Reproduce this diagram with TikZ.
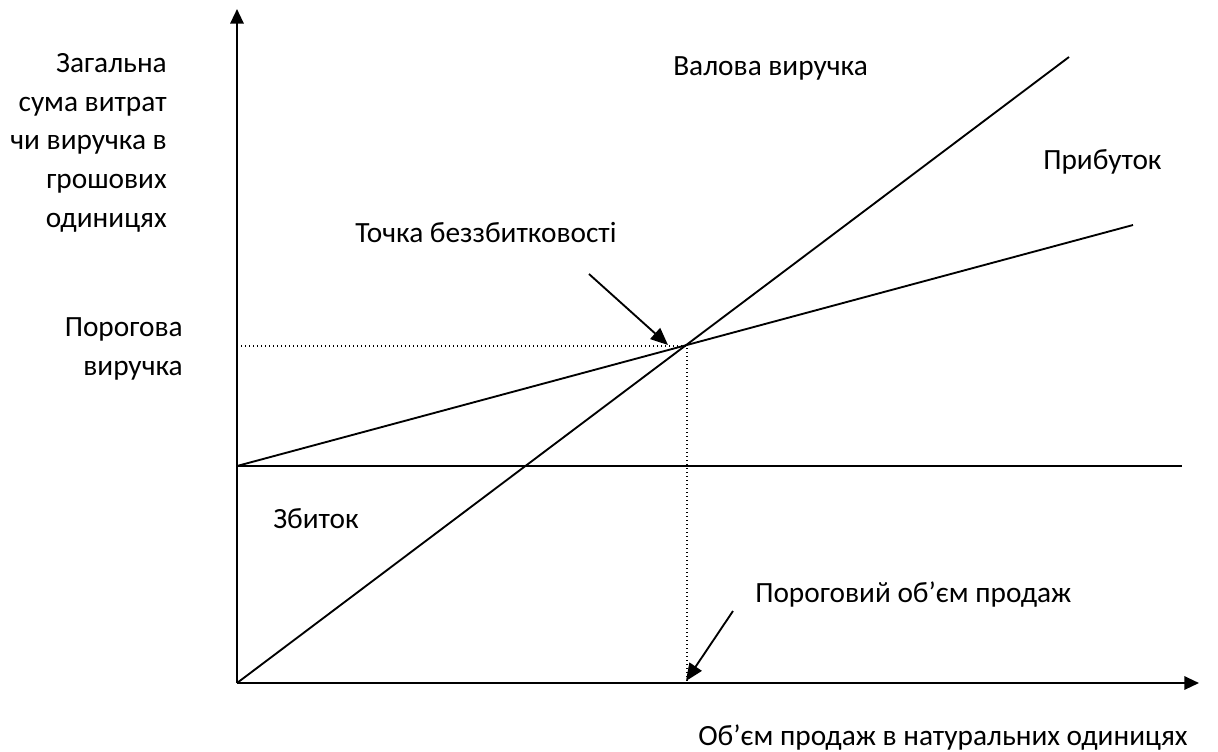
\documentclass[tikz,border=0pt]{standalone}
\usepackage{fontspec}
\setmainfont{Carlito}
\usetikzlibrary{arrows.meta}

\begin{document}
\begin{tikzpicture}[x=0.75pt,y=-0.75pt,
  lbl/.style={inner sep=0pt,font=\fontsize{22}{29}\selectfont},
  axis/.style={line width=1.6pt,-{Triangle[length=11pt,width=10pt]}},
  graph/.style={line width=1.4pt},
  pointer/.style={line width=1.4pt,-{Triangle[length=13pt,width=11pt]}},
  guide/.style={line width=1pt,dotted}]
\useasboundingbox (0,0) rectangle (1218,751);
% points of the chart
\coordinate (O) at (237,683);
\coordinate (ytop) at (237,9);
\coordinate (xend) at (1199,683);
\coordinate (fixL) at (237,466);
\coordinate (fixR) at (1182,466);
\coordinate (revEnd) at (1069,57);
\coordinate (costEnd) at (1133,225);
\coordinate (be) at (687,346);
\coordinate (beY) at (237,346);
\coordinate (beX) at (687,683);
\coordinate (beTip) at (668,345);
\coordinate (volTip) at (686,681);
% axes
\draw[axis] (O) -- (ytop);
\draw[axis] (O) -- (xend);
% lines
\draw[graph] (fixL) -- (fixR);
\draw[graph] (fixL) -- (costEnd);
\draw[graph] (O) -- (revEnd);
\draw[guide] (beY) -- (be) -- (beX);
% labels
\node[lbl,align=right,anchor=base east] (yname) at (167,227)
  {Загальна\\сума витрат\\чи виручка в\\грошових\\одиницях};
\node[lbl,align=right,anchor=base east] (bename) at (183,375)
  {Порогова\\виручка};
\node[lbl,anchor=base west] (rev) at (673,75) {Валова виручка};
\node[lbl,anchor=base west] (profit) at (1043,169) {Прибуток};
\node[lbl,anchor=base west] (bep) at (355,242) {Точка беззбитковості};
\node[lbl,anchor=base west] (loss) at (273,528) {Збиток};
\node[lbl,anchor=base west] (vol) at (755,602) {Пороговий об’єм продаж};
\node[lbl,anchor=base west] (xname) at (698,745) {Об’єм продаж в натуральних одиницях};
% pointers
\coordinate (bepFrom) at (589,274);
\coordinate (volFrom) at (733,611);
\draw[pointer] (bepFrom) -- (beTip);
\draw[pointer] (volFrom) -- (volTip);
\end{tikzpicture}
\end{document}
